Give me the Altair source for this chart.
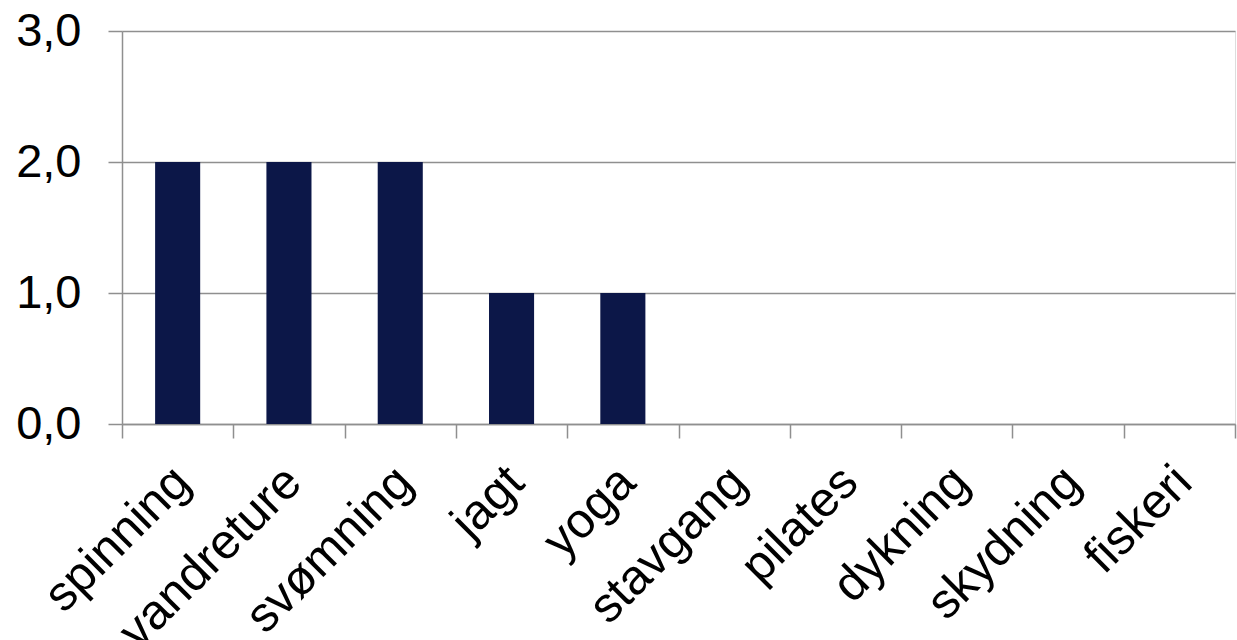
import altair as alt
import pandas as pd

# Activities and their counts
activities = ["spinning", "vandreture", "svømning", "jagt", "yoga",
              "stavgang", "pilates", "dykning", "skydning", "fiskeri"]
counts = [2, 2, 2, 1, 1, 0, 0, 0, 0, 0]

df = pd.DataFrame({"aktivitet": activities, "antal": counts})

FONT = "Liberation Sans"
GRID = "#8f8f8f"

bars = alt.Chart(df).mark_bar(
    color="#0c1748",
    width=alt.RelativeBandSize(0.405),
).encode(
    x=alt.X(
        "aktivitet:N",
        sort=activities,
        scale=alt.Scale(paddingInner=0, paddingOuter=0),
        axis=alt.Axis(
            title=None,
            labelAngle=-45,
            labelAlign="right",
            labelBaseline="middle",
            labelFont=FONT,
            labelFontSize=49,
            labelColor="#000000",
            labelPadding=36,
            labelOffset=4,
            labelLimit=0,
            labelOverlap=False,
            tickBand="extent",
            tickSize=14,
            tickColor=GRID,
            tickWidth=1.5,
            domainColor=GRID,
            domainWidth=1.5,
            grid=False,
        ),
    ),
    y=alt.Y(
        "antal:Q",
        scale=alt.Scale(domain=[0, 3], nice=False),
        axis=alt.Axis(
            title=None,
            values=[0, 1, 2, 3],
            format=".1f",
            labelExpr="replace(datum.label, '.', ',')",
            labelFont=FONT,
            labelFontSize=47,
            labelColor="#000000",
            labelPadding=27,
            tickSize=14,
            tickColor=GRID,
            tickWidth=1.5,
            domainColor=GRID,
            domainWidth=1.5,
            grid=True,
            gridColor=GRID,
            gridWidth=1.5,
        ),
    ),
)

chart = bars.properties(
    width=1113,
    height=393,
    autosize=alt.AutoSizeParams(type="none"),
    padding={"left": 122, "top": 31, "right": 2, "bottom": 216},
).configure_view(stroke=None).configure(background="white")

chart.save("out.html", embed_options={"renderer": "svg", "actions": False})
